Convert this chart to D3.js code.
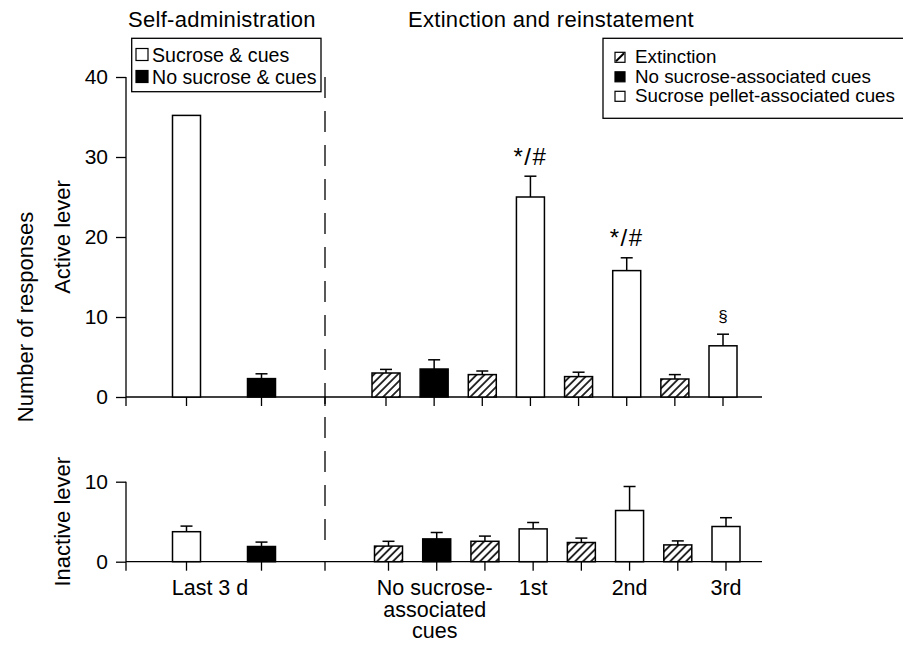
<!DOCTYPE html>
<html>
<head>
<meta charset="utf-8">
<script src="https://cdn.jsdelivr.net/npm/d3@7/dist/d3.min.js"></script>
<style>
  html, body { margin: 0; padding: 0; background: #fff; overflow: hidden; }
  svg { display: block; font-family: "Liberation Sans", Arial, Helvetica, sans-serif; }
</style>
</head>
<body>
<script>
// Self-administration phase (last 3 days)
const selfGroups = ["Sucrose & cues", "No sucrose & cues"];
const selfFills = ["pellet", "none"];
const selfActiveMean = [35.2, 2.3];
const selfActiveSem = [0, 0.6];
const selfInactiveMean = [3.75, 1.9];
const selfInactiveSem = [0.7, 0.55];

// Extinction and reinstatement sessions
const reinSessions = ["Ext A", "No sucrose-associated cues", "Ext B", "1st", "Ext C", "2nd", "Ext D", "3rd"];
const reinFills = ["extinction", "none", "extinction", "pellet", "extinction", "pellet", "extinction", "pellet"];
const reinActiveMean = [3.0, 3.5, 2.8, 25.0, 2.55, 15.8, 2.25, 6.4];
const reinActiveSem = [0.45, 1.15, 0.45, 2.6, 0.55, 1.6, 0.55, 1.45];
const reinActiveMarks = ["", "", "", "*/#", "", "*/#", "", "§"];
const reinInactiveMean = [1.95, 2.85, 2.55, 4.1, 2.4, 6.4, 2.1, 4.4];
const reinInactiveSem = [0.6, 0.8, 0.65, 0.8, 0.55, 3.0, 0.5, 1.1];

// Axis ticks and category labels
const activeTicks = [0, 10, 20, 30, 40];
const inactiveTicks = [0, 10];
const selfAxisLabel = "Last 3 d";
const reinAxisLabels = [
  { session: "No sucrose-associated cues", lines: ["No sucrose-", "associated", "cues"] },
  { session: "1st", lines: ["1st"] },
  { session: "2nd", lines: ["2nd"] },
  { session: "3rd", lines: ["3rd"] }
];

const legendSelf = [
  { label: "Sucrose & cues", fill: "pellet" },
  { label: "No sucrose & cues", fill: "none" }
];
const legendRein = [
  { label: "Extinction", fill: "extinction" },
  { label: "No sucrose-associated cues", fill: "none" },
  { label: "Sucrose pellet-associated cues", fill: "pellet" }
];

const W = 903, H = 652;
const svg = d3.select("body").append("svg").attr("width", W).attr("height", H);

// hatching for extinction bars
const defs = svg.append("defs");
const pat = defs.append("pattern")
  .attr("id", "hatch")
  .attr("patternUnits", "userSpaceOnUse")
  .attr("width", 5.6).attr("height", 10)
  .attr("patternTransform", "rotate(45)");
pat.append("rect").attr("width", 5.6).attr("height", 10).attr("fill", "#fff");
pat.append("line").attr("x1", 2.8).attr("x2", 2.8).attr("y1", -1).attr("y2", 11)
  .attr("stroke", "#000").attr("stroke-width", 1.6);

const fillOf = f => f === "extinction" ? "url(#hatch)" : (f === "none" ? "#000" : "#fff");

const axisX0 = 126, axisX1 = 762, dashX = 325;
const barW = 28, capW = 12;

const panels = [
  {
    y: d3.scaleLinear().domain([0, 40]).range([397, 77]),
    ticks: activeTicks,
    xSelf: d3.scalePoint().domain(selfGroups).range([186.5, 261.5]),
    xRein: d3.scalePoint().domain(reinSessions).range([386, 723]),
    selfMean: selfActiveMean, selfSem: selfActiveSem,
    reinMean: reinActiveMean, reinSem: reinActiveSem, marks: reinActiveMarks
  },
  {
    y: d3.scaleLinear().domain([0, 10]).range([561.7, 481.7]),
    ticks: inactiveTicks,
    xSelf: d3.scalePoint().domain(selfGroups).range([186.5, 261.5]),
    xRein: d3.scalePoint().domain(reinSessions).range([388.5, 726]),
    selfMean: selfInactiveMean, selfSem: selfInactiveSem,
    reinMean: reinInactiveMean, reinSem: reinInactiveSem, marks: null
  }
];

panels.forEach(p => {
  const g = svg.append("g");
  const y0 = p.y(0);
  const yTop = p.y(p.ticks[p.ticks.length - 1]);

  // y axis
  const ax = g.append("g").attr("transform", `translate(${axisX0},0)`)
    .call(d3.axisLeft(p.y).tickValues(p.ticks).tickSize(10).tickPadding(8).tickFormat(d3.format("d")));
  ax.select(".domain").remove();
  ax.selectAll(".tick line").attr("stroke", "#000").attr("stroke-width", 1.3);
  ax.selectAll(".tick text").attr("font-size", 21).attr("fill", "#000")
    .attr("font-family", "Liberation Sans, Arial, sans-serif");
  g.append("line").attr("x1", axisX0).attr("x2", axisX0).attr("y1", yTop).attr("y2", y0 + 9)
    .attr("stroke", "#000").attr("stroke-width", 1.3);

  // x axis baseline with ticks under each bar and at the phase divider
  g.append("line").attr("x1", axisX0).attr("x2", axisX1).attr("y1", y0).attr("y2", y0)
    .attr("stroke", "#000").attr("stroke-width", 1.3);
  const tickXs = selfGroups.map(d => p.xSelf(d)).concat([dashX]).concat(reinSessions.map(d => p.xRein(d)));
  g.selectAll(".xt").data(tickXs).join("line").attr("class", "xt")
    .attr("x1", d => d).attr("x2", d => d).attr("y1", y0).attr("y2", y0 + 9)
    .attr("stroke", "#000").attr("stroke-width", 1.3);

  const bars = selfGroups.map((d, i) => ({ cx: p.xSelf(d), m: p.selfMean[i], s: p.selfSem[i], f: selfFills[i], mark: "" }))
    .concat(reinSessions.map((d, i) => ({ cx: p.xRein(d), m: p.reinMean[i], s: p.reinSem[i], f: reinFills[i], mark: p.marks ? p.marks[i] : "" })));

  // error bars (upper half only)
  const eb = bars.filter(b => b.s > 0);
  g.selectAll(".ev").data(eb).join("line").attr("class", "ev")
    .attr("x1", b => b.cx).attr("x2", b => b.cx).attr("y1", b => p.y(b.m)).attr("y2", b => p.y(b.m + b.s))
    .attr("stroke", "#000").attr("stroke-width", 1.5);
  g.selectAll(".ec").data(eb).join("line").attr("class", "ec")
    .attr("x1", b => b.cx - capW / 2).attr("x2", b => b.cx + capW / 2)
    .attr("y1", b => p.y(b.m + b.s)).attr("y2", b => p.y(b.m + b.s))
    .attr("stroke", "#000").attr("stroke-width", 1.5);

  // bars
  g.selectAll(".bar").data(bars).join("rect").attr("class", "bar")
    .attr("x", b => b.cx - barW / 2).attr("width", barW)
    .attr("y", b => p.y(b.m)).attr("height", b => y0 - p.y(b.m))
    .attr("fill", b => fillOf(b.f)).attr("stroke", "#000").attr("stroke-width", 1.5);

  // significance marks
  g.selectAll(".mk").data(bars.filter(b => b.mark)).join("text").attr("class", "mk")
    .attr("x", b => b.cx).attr("y", b => p.y(b.m + b.s) - (b.mark === "§" ? 12 : 11.5))
    .attr("text-anchor", "middle")
    .attr("font-size", b => b.mark === "§" ? 17 : 24)
    .attr("letter-spacing", b => b.mark === "§" ? 0 : 1.5)
    .text(b => b.mark);
});

// phase divider
svg.append("line").attr("x1", dashX).attr("x2", dashX).attr("y1", 77).attr("y2", 553)
  .attr("stroke", "#000").attr("stroke-width", 1.3).attr("stroke-dasharray", "21,13");

// titles
svg.append("text").attr("x", 128).attr("y", 27).attr("font-size", 22).attr("letter-spacing", 0.3).text("Self-administration");
svg.append("text").attr("x", 408).attr("y", 27).attr("font-size", 22).attr("letter-spacing", 0.3).text("Extinction and reinstatement");

// y labels
svg.append("text").attr("transform", "translate(33,317) rotate(-90)").attr("text-anchor", "middle")
  .attr("font-size", 22).text("Number of responses");
svg.append("text").attr("transform", `translate(70,${panels[0].y(20)}) rotate(-90)`).attr("text-anchor", "middle")
  .attr("font-size", 22).text("Active lever");
svg.append("text").attr("transform", `translate(70,${panels[1].y(5)}) rotate(-90)`).attr("text-anchor", "middle")
  .attr("font-size", 22).text("Inactive lever");

// x labels
const bottom = panels[1];
svg.append("text").attr("x", 210).attr("y", 595).attr("text-anchor", "middle")
  .attr("font-size", 21.5).text(selfAxisLabel);
reinAxisLabels.forEach(l => {
  const t = svg.append("text").attr("text-anchor", "middle").attr("font-size", 21.5)
    .attr("x", bottom.xRein(l.session)).attr("y", 595);
  l.lines.forEach((ln, i) => t.append("tspan").attr("x", bottom.xRein(l.session) - (l.lines.length > 1 ? 2 : 0))
    .attr("y", 595 + i * 21.7).text(ln));
});

// legends
function legend(x, y, w, h, items, sq, textX, base0, step, fs, ls) {
  const g = svg.append("g");
  g.append("rect").attr("x", x).attr("y", y).attr("width", w).attr("height", h)
    .attr("fill", "#fff").attr("stroke", "#000").attr("stroke-width", 1.3);
  items.forEach((it, i) => {
    const by = base0 + i * step;
    g.append("rect").attr("x", sq.x).attr("y", by - sq.h - sq.lift).attr("width", sq.w).attr("height", sq.h)
      .attr("fill", it.fill === "none" ? "#000" : "#fff").attr("stroke", "#000").attr("stroke-width", 1.2);
    if (it.fill === "extinction") {
      g.append("line").attr("x1", sq.x + 1).attr("y1", by - sq.lift - 1)
        .attr("x2", sq.x + sq.w - 1).attr("y2", by - sq.h - sq.lift + 1)
        .attr("stroke", "#000").attr("stroke-width", 2);
    }
    g.append("text").attr("x", textX).attr("y", by).attr("font-size", fs)
      .attr("letter-spacing", ls).text(it.label);
  });
}
legend(131.7, 38.3, 189.3, 53.4, legendSelf, { x: 136, w: 12, h: 12, lift: 1 }, 152, 61.5, 22, 19.6, 0);
legend(603, 38.3, 330, 80, legendRein, { x: 615, w: 10, h: 10, lift: 1 }, 635, 63.3, 19.5, 18.8, 0);
</script>
</body>
</html>
